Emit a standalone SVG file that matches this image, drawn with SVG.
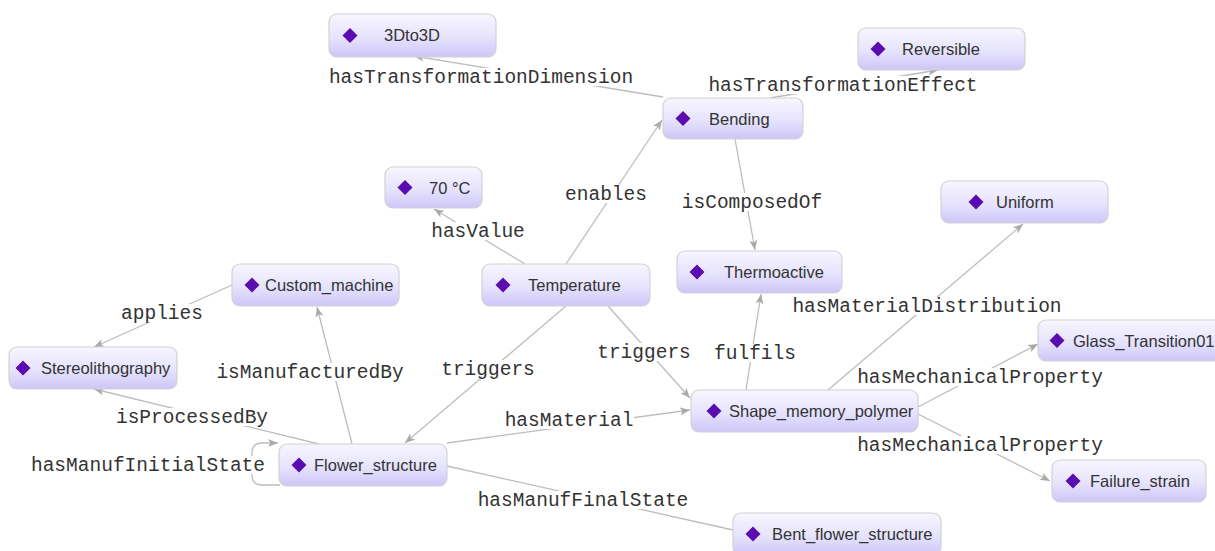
<svg xmlns="http://www.w3.org/2000/svg" width="1215" height="551" viewBox="0 0 1215 551">
<style>
.node rect{fill:url(#ng);stroke:#d2d2d2;stroke-width:1.2}
.node text{font-family:"Liberation Sans",Arial,sans-serif;font-size:16.5px;fill:#333}
.edge{fill:none;stroke:#bdbdbd;stroke-width:1.3}
.arr{marker-end:url(#ah)}
.lbg{fill:#fff}
.lbl{font-family:"Liberation Mono","Courier New",monospace;font-size:19.5px;fill:#333;text-anchor:middle}
</style>
<defs>
<linearGradient id="ng" x1="0" y1="0" x2="0" y2="1">
<stop offset="0" stop-color="#f7f6ff"/>
<stop offset="0.55" stop-color="#e6e3fd"/>
<stop offset="1" stop-color="#cdc6f8"/>
</linearGradient>
<polygon id="dm" points="0,-7.5 7.5,0 0,7.5 -7.5,0" fill="#5a0cb0"/>
<marker id="ah" viewBox="0 0 10 8" refX="10" refY="4" markerWidth="10" markerHeight="8" markerUnits="userSpaceOnUse" orient="auto">
<path d="M0,0 L10,4 L0,8 L2.5,4 z" fill="#aaaaaa"/>
</marker>
</defs>
<rect width="1215" height="551" fill="#fff"/>
<g id="connectors">
<line class="edge arr" x1="663" y1="97" x2="414" y2="56"/>
<line class="edge arr" x1="770" y1="98" x2="938" y2="70"/>
<line class="edge arr" x1="566" y1="264" x2="662" y2="120"/>
<line class="edge arr" x1="735" y1="139" x2="755" y2="250"/>
<line class="edge arr" x1="525" y1="264" x2="434" y2="209"/>
<line class="edge arr" x1="232" y1="285" x2="94" y2="347"/>
<line class="edge arr" x1="352" y1="444" x2="317" y2="307"/>
<line class="edge arr" x1="319" y1="444" x2="94" y2="389"/>
<path class="edge arr" d="M280,485 H262 Q252,485 252,475 V453 Q252,443 262,443 H278"/>
<line class="edge arr" x1="566" y1="306" x2="405" y2="443"/>
<line class="edge arr" x1="608" y1="306" x2="690" y2="398"/>
<line class="edge arr" x1="447" y1="443" x2="690" y2="410"/>
<line class="edge arr" x1="746" y1="390" x2="761" y2="294"/>
<line class="edge arr" x1="828" y1="390" x2="1023" y2="224"/>
<line class="edge arr" x1="918" y1="407" x2="1038" y2="344"/>
<line class="edge arr" x1="918" y1="414" x2="1050" y2="481"/>
<line class="edge" x1="447" y1="466" x2="733" y2="530"/>
<g id="edge-labels">
<rect class="lbg" x="330" y="68" width="303" height="18"/><text class="lbl" x="481" y="83">hasTransformationDimension</text>
<rect class="lbg" x="709" y="76" width="269" height="18"/><text class="lbl" x="843" y="91">hasTransformationEffect</text>
<rect class="lbg" x="565" y="185" width="82" height="18"/><text class="lbl" x="606" y="200">enables</text>
<rect class="lbg" x="682" y="193" width="140" height="18"/><text class="lbl" x="752" y="208">isComposedOf</text>
<rect class="lbg" x="431" y="222" width="94" height="18"/><text class="lbl" x="478" y="237">hasValue</text>
<rect class="lbg" x="121" y="304" width="83" height="18"/><text class="lbl" x="162" y="319">applies</text>
<rect class="lbg" x="792" y="297" width="270" height="18"/><text class="lbl" x="927" y="312">hasMaterialDistribution</text>
<rect class="lbg" x="597" y="343" width="94" height="18"/><text class="lbl" x="644" y="358">triggers</text>
<rect class="lbg" x="714" y="344" width="82" height="18"/><text class="lbl" x="755" y="359">fulfils</text>
<rect class="lbg" x="857" y="368" width="246" height="18"/><text class="lbl" x="980" y="383">hasMechanicalProperty</text>
<rect class="lbg" x="216" y="363" width="188" height="18"/><text class="lbl" x="310" y="378">isManufacturedBy</text>
<rect class="lbg" x="441" y="360" width="94" height="18"/><text class="lbl" x="488" y="375">triggers</text>
<rect class="lbg" x="115" y="408" width="154" height="18"/><text class="lbl" x="192" y="423">isProcessedBy</text>
<rect class="lbg" x="505" y="411" width="129" height="18"/><text class="lbl" x="569" y="426">hasMaterial</text>
<rect class="lbg" x="857" y="436" width="246" height="18"/><text class="lbl" x="980" y="451">hasMechanicalProperty</text>
<rect class="lbg" x="31" y="456" width="234" height="18"/><text class="lbl" x="148" y="471">hasManufInitialState</text>
<rect class="lbg" x="477" y="491" width="212" height="18"/><text class="lbl" x="583" y="506">hasManufFinalState</text>
</g>
</g>
<g id="n_3dto3d" class="node"><rect x="329" y="14" width="167" height="43" rx="8"/><use href="#dm" x="350" y="35.5"/><text x="384" y="41">3Dto3D</text></g>
<g id="n_reversible" class="node"><rect x="858" y="28" width="167" height="42" rx="8"/><use href="#dm" x="878" y="49"/><text x="902" y="55">Reversible</text></g>
<g id="n_bending" class="node"><rect x="663" y="98" width="140" height="41" rx="8"/><use href="#dm" x="683" y="118.5"/><text x="709" y="124.5">Bending</text></g>
<g id="n_70c" class="node"><rect x="385" y="167" width="97" height="41" rx="8"/><use href="#dm" x="405" y="187.5"/><text x="429" y="193.5">70 °C</text></g>
<g id="n_uniform" class="node"><rect x="941" y="181" width="167" height="42" rx="8"/><use href="#dm" x="976" y="202"/><text x="996" y="208">Uniform</text></g>
<g id="n_custom_machine" class="node"><rect x="232" y="264" width="167" height="42" rx="8"/><use href="#dm" x="252" y="285"/><text x="265" y="291">Custom_machine</text></g>
<g id="n_temperature" class="node"><rect x="482" y="264" width="168" height="42" rx="8"/><use href="#dm" x="503" y="285"/><text x="528" y="291">Temperature</text></g>
<g id="n_thermoactive" class="node"><rect x="677" y="251" width="165" height="42" rx="8"/><use href="#dm" x="697" y="272"/><text x="724" y="278">Thermoactive</text></g>
<g id="n_stereolithography" class="node"><rect x="9" y="347" width="168" height="42" rx="8"/><use href="#dm" x="23" y="368"/><text x="41" y="374">Stereolithography</text></g>
<g id="n_glass_transition01" class="node"><rect x="1038" y="320" width="200" height="41" rx="8"/><use href="#dm" x="1057" y="340.5"/><text x="1073" y="346.5">Glass_Transition01</text></g>
<g id="n_shape_memory_polymer" class="node"><rect x="691" y="390" width="227" height="42" rx="8"/><use href="#dm" x="714" y="411"/><text x="729" y="417">Shape_memory_polymer</text></g>
<g id="n_flower_structure" class="node"><rect x="279" y="444" width="168" height="42" rx="8"/><use href="#dm" x="299" y="465"/><text x="314" y="471">Flower_structure</text></g>
<g id="n_failure_strain" class="node"><rect x="1052" y="460" width="154" height="42" rx="8"/><use href="#dm" x="1073" y="481"/><text x="1090" y="487">Failure_strain</text></g>
<g id="n_bent_flower_structure" class="node"><rect x="733" y="513" width="208" height="42" rx="8"/><use href="#dm" x="753" y="534"/><text x="772" y="540">Bent_flower_structure</text></g>
</svg>
